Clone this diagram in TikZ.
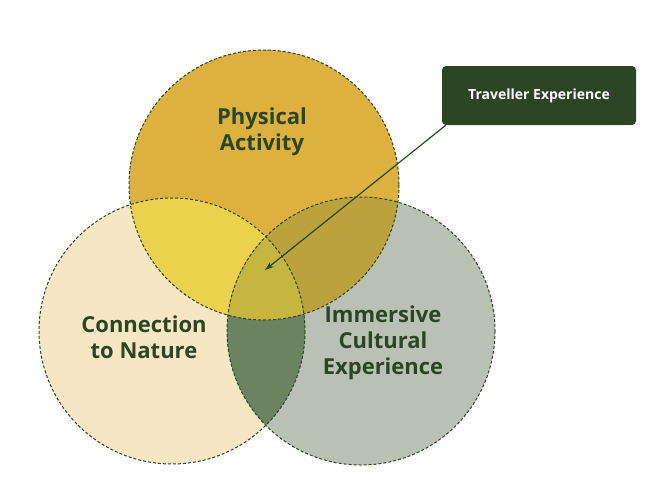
\documentclass[tikz,border=0pt]{standalone}
\usepackage{fontspec}
\setmainfont{Open Sans}
\usetikzlibrary{arrows.meta}
\begin{document}
\begin{tikzpicture}[x=1pt,y=-1pt,
  ring/.style={draw=dkg,line width=1pt,dash pattern=on 3pt off 2pt},
  lab/.style={text=dkg,font=\bfseries\fontsize{22}{26}\selectfont,align=center}]
\definecolor{dkg}{HTML}{2B4525}
\definecolor{cT}{HTML}{DDB13F}
\definecolor{cL}{HTML}{F5E6C4}
\definecolor{cR}{HTML}{B9C1B5}
\definecolor{cTL}{HTML}{EAD24C}
\definecolor{cTR}{HTML}{BBA23D}
\definecolor{cLR}{HTML}{6C8360}
\definecolor{cC}{HTML}{C6B640}
\useasboundingbox (0,0) rectangle (653,490);
\def\T{(264,185) circle (135)}
\def\L{(172,331) circle (133)}
\def\R{(361,331) circle (134)}
\fill[cT] \T; \fill[cL] \L; \fill[cR] \R;
\begin{scope}\clip \T; \fill[cTL] \L; \fill[cTR] \R; \end{scope}
\begin{scope}\clip \L; \fill[cLR] \R; \end{scope}
\begin{scope}\clip \T; \clip \L; \fill[cC] \R; \end{scope}
\draw[ring] \T; \draw[ring] \L; \draw[ring] \R;
\node[lab] (pa) at (262,132) {Physical\\Activity};
\node[lab] (cn) at (144,337) {Connection\\to Nature};
\node[lab] (ic) at (383,343) {Immersive\\Cultural\\Experience};
\node[fill=dkg,rounded corners=4pt,minimum width=194pt,minimum height=59pt,text=white,font=\bfseries\fontsize{14}{16}\selectfont] (te) at (539,95.5) {Traveller Experience};
\coordinate (tip) at (265,270);
\coordinate (st) at ([xshift=4pt]te.south west);
\draw[dkg,line width=1.2pt,-{Stealth[length=9pt,width=6pt]}] (st) -- (tip);
\end{tikzpicture}
\end{document}
